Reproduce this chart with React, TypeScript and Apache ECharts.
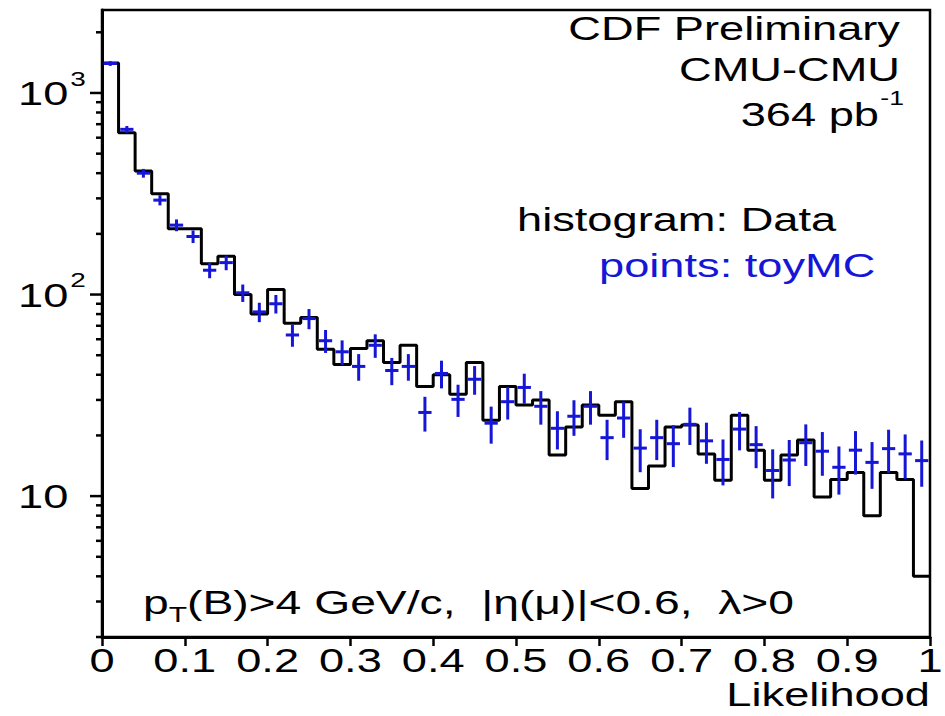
import React, { useEffect, useRef } from 'react';
import * as echarts from 'echarts';

// ---------------- data ----------------
const BIN_WIDTH = 0.02;
// histogram: Data (50 bins of 0.02 in Likelihood)
const dataCounts = [
  1410, 635, 410, 316, 212, 212, 142, 155, 100, 80,
  106, 72, 77, 53.5, 45, 54, 59, 46, 56, 35,
  40, 32, 46, 23.8, 35, 28.3, 30, 16, 22, 28.3,
  25.2, 29.4, 10.9, 14.1, 22, 22.5, 16.2, 12, 25.2, 16.9,
  12, 16, 19, 9.9, 12.1, 13.1, 8, 13.1, 12.1, 4.0,
];
// points: toyMC
const mcCounts = [
  1400, 660, 400, 294, 221, 194, 132, 144, 102, 82,
  90, 63, 76, 59, 52, 44, 56, 42, 44, 26,
  40.6, 30.2, 38, 23, 29.4, 34.6, 27.9, 21.7, 24.9, 27.9,
  19.5, 24.4, 17.3, 19.5, 18.2, 22.7, 18.8, 15.2, 21.5, 18,
  13.4, 15.1, 18.4, 16.7, 13.9, 16.9, 14.7, 17.2, 16.2, 15,
];
const xTicks = [0, 0.1, 0.2, 0.3, 0.4, 0.5, 0.6, 0.7, 0.8, 0.9, 1];
const xTickLabels = ['0', '0.1', '0.2', '0.3', '0.4', '0.5', '0.6', '0.7', '0.8', '0.9', '1'];
const yMajorTicks = [10, 100, 1000];
const yMajorExponents = ['', '2', '3'];
const yMinorTicks = [
  2, 3, 4, 5, 6, 7, 8, 9,
  20, 30, 40, 50, 60, 70, 80, 90,
  200, 300, 400, 500, 600, 700, 800, 900,
  2000,
];
const Y_MIN = 2;
const Y_MAX = 2580;

// ---------------- style ----------------
const BLUE = '#1616d6';
const FONT = '"Liberation Sans", Arial, Helvetica, sans-serif';
const SX = 1.33;
const K_BASE = 0.35; // baseline offset from 'middle' as fraction of font size

let measureCtx: CanvasRenderingContext2D | null = null;
function textWidth(t: string, size: number): number {
  if (!measureCtx) measureCtx = document.createElement('canvas').getContext('2d');
  if (!measureCtx) return t.length * size * 0.55;
  measureCtx.font = `${size}px ${FONT}`;
  return measureCtx.measureText(t).width;
}

type Piece = { t: string; size: number; dy?: number; gap?: number; fill?: string };

function textRun(
  pieces: Piece[],
  x: number,
  baseline: number,
  align: 'left' | 'right' | 'center',
  fill: string,
  sx: number = SX
) {
  let cur = 0;
  const children: any[] = [];
  for (const p of pieces) {
    cur += p.gap || 0;
    children.push({
      type: 'text',
      x: cur,
      y: (p.dy || 0) - K_BASE * p.size,
      style: {
        text: p.t,
        font: `${p.size}px ${FONT}`,
        fill: p.fill || fill,
        textAlign: 'left',
        textVerticalAlign: 'middle',
      },
      silent: true,
    });
    cur += textWidth(p.t, p.size);
  }
  const w = cur * sx;
  const gx = align === 'left' ? x : align === 'right' ? x - w : x - w / 2;
  return { type: 'group', x: gx, y: baseline, scaleX: sx, scaleY: 1, children, silent: true };
}

export default function App() {
  const ref = useRef<HTMLDivElement>(null);

  useEffect(() => {
    const el = ref.current!;
    const chart = echarts.init(el, null, { renderer: 'svg' });

    const histLine: number[][] = dataCounts.map((v, i) => [i * BIN_WIDTH, v]);
    histLine.push([dataCounts.length * BIN_WIDTH, dataCounts[dataCounts.length - 1]]);

    const mcData = mcCounts.map((v, i) => [
      (i + 0.5) * BIN_WIDTH,
      v,
      v - Math.sqrt(v),
      v + Math.sqrt(v),
    ]);

    const yTickData = [
      ...yMajorTicks.map((v) => [0, v, 12]),
      ...yMinorTicks.map((v) => [0, v, 6]),
    ];

    const HALF = BIN_WIDTH * 0.4;

    chart.setOption({
      animation: false,
      backgroundColor: '#ffffff',
      grid: {
        left: 102,
        top: 10,
        width: 828,
        height: 627,
        show: true,
        borderColor: '#000',
        borderWidth: 2.5,
        containLabel: false,
      },
      xAxis: {
        type: 'value',
        min: 0,
        max: 1,
        interval: 0.1,
        axisLine: { show: true, lineStyle: { color: '#000', width: 3 } },
        axisTick: { show: true, inside: false, length: 9, lineStyle: { color: '#000', width: 2.5 } },
        axisLabel: { show: false },
        splitLine: { show: false },
      },
      yAxis: {
        type: 'log',
        logBase: 10,
        min: Y_MIN,
        max: Y_MAX,
        axisLine: { show: true, lineStyle: { color: '#000', width: 3 } },
        axisTick: { show: false },
        axisLabel: { show: false },
        splitLine: { show: false },
        minorTick: { show: false },
      },
      series: [
        {
          type: 'line',
          data: histLine,
          step: 'end',
          symbol: 'none',
          lineStyle: { color: '#000', width: 3 },
          z: 2,
          silent: true,
        },
        {
          type: 'custom',
          coordinateSystem: 'cartesian2d',
          data: mcData,
          encode: { x: 0, y: 1 },
          z: 3,
          silent: true,
          renderItem: (_p: any, api: any) => {
            const x = api.value(0);
            const v = api.value(1);
            const lo = api.value(2);
            const hi = api.value(3);
            const a = api.coord([x, lo]);
            const b = api.coord([x, hi]);
            const l = api.coord([x - HALF, v]);
            const r = api.coord([x + HALF, v]);
            return {
              type: 'group',
              children: [
                { type: 'line', shape: { x1: a[0], y1: a[1], x2: b[0], y2: b[1] }, style: { stroke: BLUE, lineWidth: 3 } },
                { type: 'line', shape: { x1: l[0], y1: l[1], x2: r[0], y2: r[1] }, style: { stroke: BLUE, lineWidth: 3 } },
              ],
            };
          },
        },
        {
          type: 'custom',
          coordinateSystem: 'cartesian2d',
          data: yTickData,
          encode: { x: 0, y: 1 },
          clip: false,
          z: 5,
          silent: true,
          renderItem: (_p: any, api: any) => {
            const c = api.coord([0, api.value(1)]);
            const len = api.value(2);
            return {
              type: 'line',
              shape: { x1: c[0] - len, y1: c[1], x2: c[0], y2: c[1] },
              style: { stroke: '#000', lineWidth: 2.5 },
            };
          },
        },
      ],
    });

    const px = (x: number, y: number) => chart.convertToPixel({ gridIndex: 0 }, [x, y]) as number[];
    const elements: any[] = [];

    // x tick labels
    const bottomY = px(0, Y_MIN)[1];
    xTicks.forEach((v, i) => {
      const p = px(v, Y_MIN);
      elements.push(textRun([{ t: xTickLabels[i], size: 34 }], p[0], bottomY + 35, 'center', '#000'));
    });
    // x title
    const rightX = px(1, Y_MIN)[0];
    elements.push(textRun([{ t: 'Likelihood', size: 34 }], rightX, bottomY + 69, 'right', '#000'));

    // y labels
    yMajorTicks.forEach((v, i) => {
      const p = px(0, v);
      const pieces: Piece[] = [{ t: '10', size: 34 }];
      if (yMajorExponents[i]) pieces.push({ t: yMajorExponents[i], size: 21, dy: -19, gap: 1.5 });
      elements.push(textRun(pieces, 18, p[1] + 12, 'left', '#000'));
    });

    // annotations
    elements.push(textRun([{ t: 'CDF Preliminary', size: 34 }], 900, 40, 'right', '#000'));
    elements.push(textRun([{ t: 'CMU-CMU', size: 34 }], 900, 81, 'right', '#000'));
    elements.push(
      textRun(
        [
          { t: '364 pb', size: 34 },
          { t: '-1', size: 20, dy: -21, gap: 1 },
        ],
        904,
        126,
        'right',
        '#000'
      )
    );
    elements.push(textRun([{ t: 'histogram: Data', size: 34 }], 517, 231, 'left', '#000'));
    elements.push(textRun([{ t: 'points: toyMC', size: 34 }], 599, 277, 'left', BLUE));

    const sp = textWidth('  ', 34);
    elements.push(
      textRun(
        [
          { t: 'p', size: 34 },
          { t: 'T', size: 22, dy: 8 },
          { t: '(B)>4 GeV/c,', size: 34 },
          { t: '|\u03b7(\u03bc)|<0.6,', size: 34, gap: sp },
          { t: '\u03bb>0', size: 34, gap: sp },
        ],
        143,
        614,
        'left',
        '#000',
        1.36
      )
    );

    chart.setOption({ graphic: elements });

    return () => {
      chart.dispose();
    };
  }, []);

  return (
    <div
      ref={ref}
      style={{ position: 'fixed', left: 0, top: 0, width: 945, height: 716, background: '#fff' }}
    />
  );
}
